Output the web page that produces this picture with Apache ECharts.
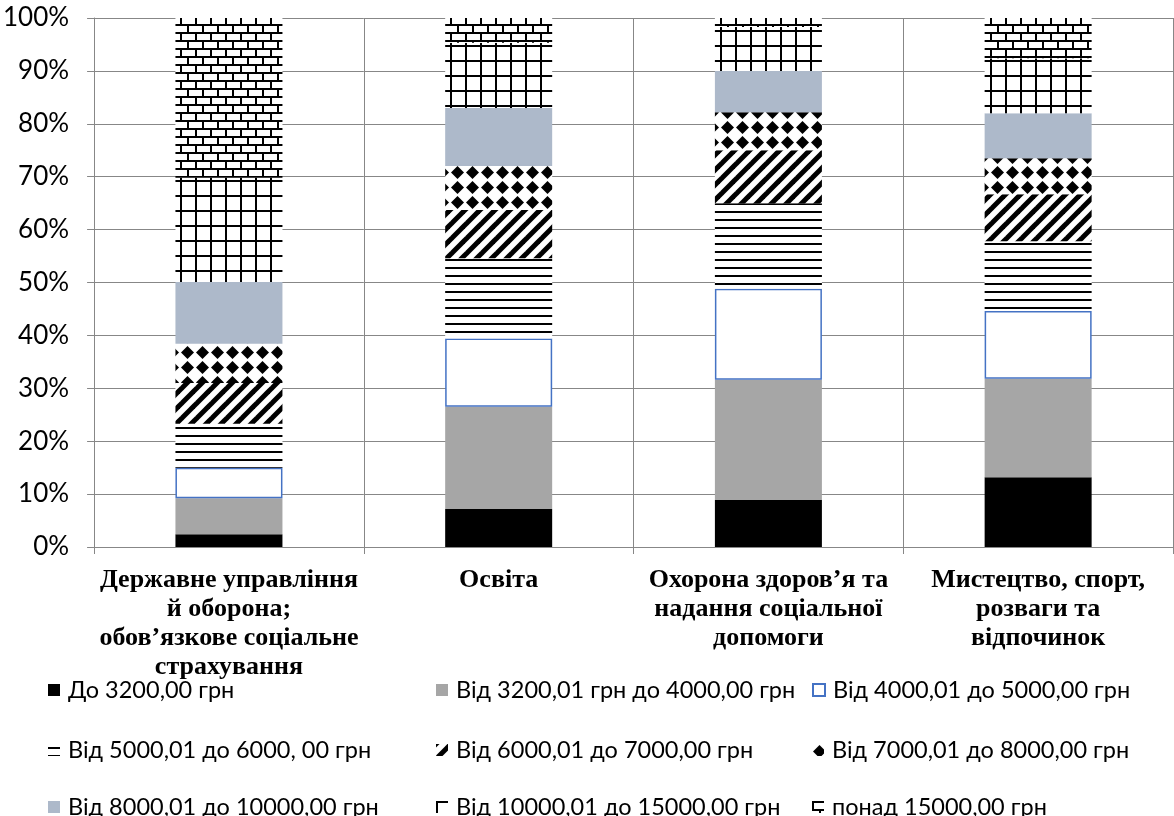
<!DOCTYPE html>
<html>
<head>
<meta charset="utf-8">
<script src="https://cdn.jsdelivr.net/npm/echarts@6/dist/echarts.min.js"></script>
<style>
html, body { margin: 0; padding: 0; background: #fff; }
#chart { width: 1174px; height: 816px; }
</style>
</head>
<body>
<div id="chart"></div>
<script>
// Industries (x axis)
const categories = [
  'Державне управління\nй оборона;\nобов’язкове соціальне\nстрахування',
  'Освіта',
  'Охорона здоров’я та\nнадання соціальної\nдопомоги',
  'Мистецтво, спорт,\nрозваги та\nвідпочинок'
];

// Salary bands, bottom to top of each stack
const bandNames = [
  'До 3200,00 грн',
  'Від 3200,01 грн до 4000,00 грн',
  'Від 4000,01 до 5000,00 грн',
  'Від 5000,01 до 6000, 00 грн',
  'Від 6000,01 до 7000,00 грн',
  'Від 7000,01 до 8000,00 грн',
  'Від 8000,01 до 10000,00 грн',
  'Від 10000,01 до 15000,00 грн',
  'понад 15000,00 грн'
];

// Share of employees (%) per band, one value per industry
const upTo3200         = [2.4, 7.2, 8.9, 13.2];
const from3200to4000   = [6.8, 19.3, 22.7, 18.6];
const from4000to5000   = [5.8, 12.9, 17.2, 12.8];
const from5000to6000   = [8.3, 15.2, 16.2, 13.2];
const from6000to7000   = [7.7, 9.1, 10.0, 8.9];
const from7000to8000   = [7.4, 8.3, 7.2, 6.8];
const from8000to10000  = [11.7, 11.0, 7.8, 8.5];
const from10000to15000 = [19.7, 12.3, 8.3, 10.4];
const over15000        = [30.2, 4.7, 1.7, 7.6];

const bandValues = [
  upTo3200, from3200to4000, from4000to5000, from5000to6000, from6000to7000,
  from7000to8000, from8000to10000, from10000to15000, over15000
];

// Y axis: percentage ticks
const yMin = 0, yMax = 100, yStep = 10;

// ---- hatch fills drawn on small tiles ----
function tile(w, h, draw) {
  const c = document.createElement('canvas');
  c.width = w; c.height = h;
  const g = c.getContext('2d');
  g.fillStyle = '#fff';
  g.fillRect(0, 0, w, h);
  g.fillStyle = '#000';
  g.strokeStyle = '#000';
  draw(g, w, h);
  return { image: c, repeat: 'repeat' };
}

const hLines = tile(15, 8, (g) => { g.fillRect(0, 3, 15, 2); });
const diagonal = tile(15, 15, (g) => {
  g.lineWidth = 5;
  [0, 15, 30].forEach((c) => {
    g.beginPath();
    g.moveTo(c + 5, -5);
    g.lineTo(c - 20, 20);
    g.stroke();
  });
});
const diamonds = tile(15, 15, (g) => {
  g.beginPath();
  g.moveTo(7.5, 1.0);
  g.lineTo(14.0, 7.5);
  g.lineTo(7.5, 14.0);
  g.lineTo(1.0, 7.5);
  g.closePath();
  g.fill();
});
const gridFill = tile(15, 15, (g) => {
  g.fillRect(0, 0, 15, 2);
  g.fillRect(0, 0, 2, 15);
});
const brick = tile(15, 16, (g) => {
  g.fillRect(0, 0, 15, 2);
  g.fillRect(0, 8, 15, 2);
  g.fillRect(0, 0, 2, 8);
  g.fillRect(7, 8, 2, 8);
});

const bandStyles = [
  { color: '#000000' },
  { color: '#A6A6A6' },
  { color: '#FFFFFF', borderColor: '#4472C4', borderWidth: 1.5 },
  { color: hLines },
  { color: diagonal },
  { color: diamonds },
  { color: '#ADB9CA' },
  { color: gridFill },
  { color: brick }
];

const axisGrey = '#878787';
const uiFont = 'Lato';

const series = bandNames.map((name, i) => ({
  name: name,
  type: 'bar',
  stack: 'total',
  barWidth: 107,
  data: bandValues[i],
  itemStyle: bandStyles[i],
  emphasis: { disabled: true },
  silent: true
}));

// Legend laid out as a 3 x 3 table
const legendCols = [48, 436, 812];
const legendRows = [678, 738, 795];
const legends = bandNames.map((name, i) => ({
  data: [name],
  left: legendCols[i % 3],
  top: legendRows[Math.floor(i / 3)],
  padding: 0,
  itemWidth: 12,
  itemHeight: 12,
  icon: 'rect',
  selectedMode: false,
  textStyle: {
    fontFamily: uiFont,
    fontSize: 23.5,
    lineHeight: 24,
    color: '#000',
    padding: [0, 0, 0, 3]
  }
}));

const chart = echarts.init(document.getElementById('chart'), null, { renderer: 'canvas' });
chart.setOption({
  animation: false,
  backgroundColor: '#fff',
  grid: { left: 93, right: 1, top: 18, bottom: 269, containLabel: false },
  legend: legends,
  xAxis: {
    type: 'category',
    data: categories,
    axisLine: { show: true, lineStyle: { color: axisGrey, width: 1 } },
    axisTick: { show: true, length: 7, lineStyle: { color: axisGrey } },
    splitLine: { show: true, interval: 0, lineStyle: { color: axisGrey, width: 1 } },
    axisLabel: {
      interval: 0,
      margin: 19,
      fontFamily: 'Liberation Serif',
      fontWeight: 'bold',
      fontSize: 26,
      lineHeight: 29,
      color: '#000'
    }
  },
  yAxis: {
    type: 'value',
    min: yMin,
    max: yMax,
    interval: yStep,
    axisLine: { show: true, lineStyle: { color: axisGrey, width: 1 } },
    axisTick: { show: true, length: 7, lineStyle: { color: axisGrey } },
    splitLine: { show: true, lineStyle: { color: axisGrey, width: 1 } },
    axisLabel: {
      formatter: '{value}%',
      margin: 25,
      fontFamily: uiFont,
      fontSize: 26,
      color: '#000'
    }
  },
  series: series
});
</script>
</body>
</html>
